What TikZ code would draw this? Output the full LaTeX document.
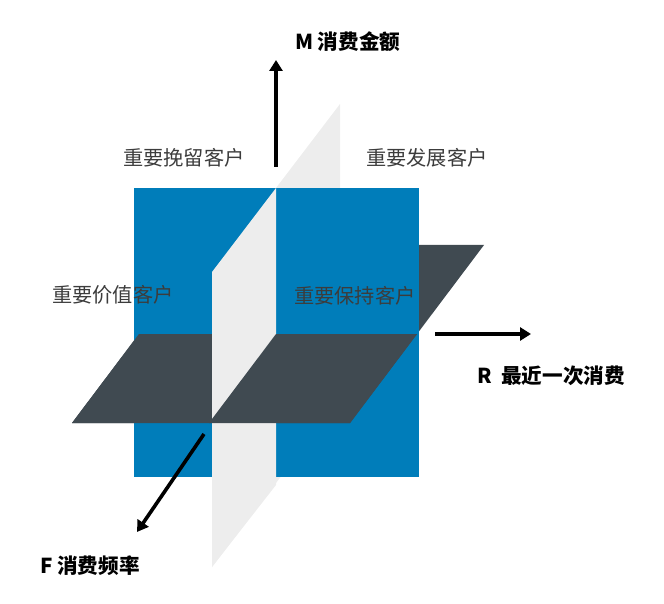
\documentclass[tikz,border=0pt]{standalone}
\usepackage{fontspec}
\setmainfont{Noto Sans CJK SC}
\usetikzlibrary{arrows.meta}
\definecolor{planeblue}{RGB}{0,125,186}
\definecolor{planegray}{RGB}{237,237,237}
\definecolor{planedark}{RGB}{64,74,81}
\definecolor{labelgray}{RGB}{60,60,60}
\tikzset{
  quadlabel/.style={anchor=west,inner sep=0pt,text=labelgray,font=\fontsize{20.2}{23}\selectfont},
  axislabel/.style={anchor=west,inner sep=0pt,text=black,font=\bfseries\fontsize{20.6}{23}\selectfont},
  axisarrow/.style={line width=3.6pt,-{Triangle[length=11pt,width=13pt]}}
}
\begin{document}
\begin{tikzpicture}[x=1pt,y=-1pt]
\useasboundingbox (0,0) rectangle (664,604);
% gray vertical plane (full)
\fill[planegray] (340,104) -- (212,272) -- (212,567) -- (340,399) -- cycle;
% dark horizontal plane (full, back part visible right of blue)
\fill[planedark] (206,245) -- (484,245) -- (350,423) -- (72,423) -- cycle;
% blue frontal plane
\fill[planeblue] (134,188) rectangle (419,477);
% dark plane front part
\fill[planedark] (139,334) -- (417,334) -- (350,423) -- (72,423) -- cycle;
% gray plane front half
\fill[planegray] (212,272) -- (276,188) -- (276,485) -- (212,567) -- cycle;
% dark plane front-right portion (in front of gray)
\fill[planedark] (276,334) -- (417,334) -- (350,423) -- (209,423) -- cycle;
% axes
\coordinate (mS) at (276,167);
\coordinate (mE) at (276,60);
\coordinate (rS) at (435,334);
\coordinate (rE) at (531,334);
\coordinate (fS) at (204,434);
\coordinate (fE) at (137,532);
\draw[axisarrow] (mS) -- (mE);
\draw[axisarrow] (rS) -- (rE);
\draw[axisarrow] (fS) -- (fE);
% labels
\node[axislabel] (mlab) at (295,42) {M 消费金额};
\node[axislabel] (rlab) at (477,376) {R\ \ 最近一次消费};
\node[axislabel] (flab) at (40,566) {F 消费频率};
\node[quadlabel] (q1) at (123,158) {重要挽留客户};
\node[quadlabel] (q2) at (366,158) {重要发展客户};
\node[quadlabel] (q3) at (52,295) {重要价值客户};
\node[quadlabel] (q4) at (294,296) {重要保持客户};
\end{tikzpicture}
\end{document}
